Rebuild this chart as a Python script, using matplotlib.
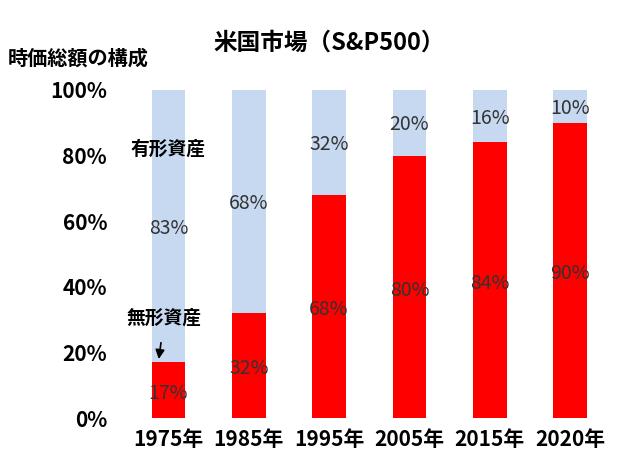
import matplotlib.pyplot as plt
import numpy as np

years = ["1975年", "1985年", "1995年", "2005年", "2015年", "2020年"]
intangible = [17, 32, 68, 80, 84, 90]
tangible = [83, 68, 32, 20, 16, 10]
yticks = [0, 20, 40, 60, 80, 100]

plt.rcParams['font.family'] = 'Noto Sans CJK JP'
fig = plt.figure(figsize=(6.22, 4.73), dpi=100)
ax = fig.add_axes([0.19, 0.116, 0.775, 0.694])
x = np.arange(len(years))
w = 0.42
ax.bar(x, intangible, w, color='#FF0000')
ax.bar(x, tangible, w, bottom=intangible, color='#C6D9F1')
for xi, a, b in zip(x, intangible, tangible):
    ax.text(xi, a / 2 - 1, f"{a}%", ha='center', va='center', fontsize=14, color='#333333')
    ax.text(xi, a + b / 2 - 0.7, f"{b}%", ha='center', va='center', fontsize=14, color='#333333')
ax.set_xlim(-0.625, 5.375)
ax.set_ylim(0, 100)
ax.set_xticks(x)
ax.set_xticklabels(years, fontsize=15, fontweight='bold')
ax.set_yticks(yticks)
ax.set_yticklabels([f"{v}%" for v in yticks], fontsize=15, fontweight='bold')
ax.tick_params(length=0, pad=8)
for s in ax.spines.values():
    s.set_visible(False)
ax.text(0, 82, "有形資産", ha='center', va='center', fontsize=13.5, fontweight='bold')
ax.annotate("無形資産", xy=(-0.12, 18), xytext=(-0.05, 30.5), ha='center', va='center',
            fontsize=13.5, fontweight='bold',
            arrowprops=dict(arrowstyle='-|>', color='black', lw=1.2, shrinkA=9, shrinkB=0))
fig.text(0.53, 0.91, "米国市場（S&P500）", ha='center', va='center', fontsize=17, fontweight='bold')
fig.text(0.012, 0.877, "時価総額の構成", ha='left', va='center', fontsize=14.5, fontweight='bold')
fig.savefig("out.png", dpi=100)
